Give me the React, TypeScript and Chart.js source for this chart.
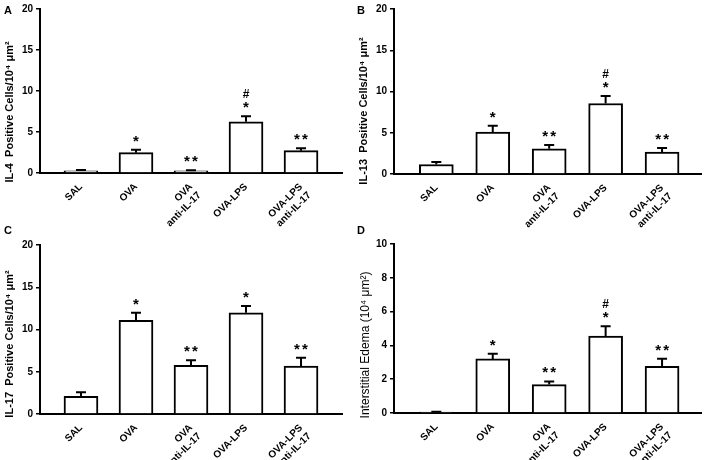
import React, { useEffect, useRef } from "react";
import { Chart, registerables } from "chart.js";

Chart.register(...registerables);

// ---------- data ----------
const categories: string[][] = [
  ["SAL"],
  ["OVA"],
  ["OVA", "anti-IL-17"],
  ["OVA-LPS"],
  ["OVA-LPS", "anti-IL-17"],
];

const il4Means = [0.25, 2.48, 0.25, 6.24, 2.72];
const il4Errors = [0.12, 0.36, 0.08, 0.68, 0.3];
const il4Stars = ["", "*", "**", "*", "**"];
const il4Hash = [false, false, false, true, false];

const il13Means = [1.15, 5.08, 3.05, 8.55, 2.65];
const il13Errors = [0.3, 0.76, 0.48, 0.9, 0.5];
const il13Stars = ["", "*", "**", "*", "**"];
const il13Hash = [false, false, false, true, false];

const il17Means = [2.1, 11.1, 5.75, 11.97, 5.67];
const il17Errors = [0.46, 0.87, 0.6, 0.8, 0.98];
const il17Stars = ["", "*", "**", "*", "**"];
const il17Hash = [false, false, false, false, false];

const edemaMeans = [0.05, 3.2, 1.68, 4.55, 2.76];
const edemaErrors = [0.03, 0.3, 0.19, 0.58, 0.45];
const edemaStars = ["", "*", "**", "*", "**"];
const edemaHash = [false, false, false, true, false];

const panelLetters = ["A", "B", "C", "D"];
const yTitles = [
  "IL-4  Positive Cells/10\u2074 \u03bcm\u00b2",
  "IL-13  Positive Cells/10\u2074 \u03bcm\u00b2",
  "IL-17  Positive Cells/10\u2074 \u03bcm\u00b2",
  "Interstitial Edema (10\u2074 \u03bcm\u00b2)",
];
const yMaxes = [20, 20, 20, 10];
const ySteps = [5, 5, 5, 2];

const FONT = "'Liberation Sans', Arial, Helvetica, sans-serif";

type PanelSpec = {
  means: number[];
  errors: number[];
  stars: string[];
  hash: boolean[];
  yMax: number;
  yStep: number;
  title: string;
  titleBold: boolean;
  padTop: number;
  padRight: number;
  xHeight: number;
  xMin: number;
  xMax: number;
  titleX: number;
  titleY: number;
};

const errorPlugin = {
  id: "errAndMarks",
  afterDatasetsDraw(chart: any, _args: any, opts: any) {
    const spec: PanelSpec = opts.spec;
    const ctx = chart.ctx;
    const xs = chart.scales.x;
    const ys = chart.scales.y;
    ctx.save();
    ctx.strokeStyle = "#000";
    ctx.fillStyle = "#000";
    ctx.lineWidth = 2;
    spec.means.forEach((m, i) => {
      const x = xs.getPixelForValue(i);
      const y0 = ys.getPixelForValue(m);
      const y1 = ys.getPixelForValue(m + spec.errors[i]);
      ctx.beginPath();
      ctx.moveTo(x, y0);
      ctx.lineTo(x, y1);
      ctx.moveTo(x - 5, y1);
      ctx.lineTo(x + 5, y1);
      ctx.stroke();
      ctx.font = `bold 15px ${FONT}`;
      ctx.textAlign = "center";
      ctx.textBaseline = "alphabetic";
      const s = spec.stars[i];
      const sy = y1 - 4;
      if (s === "*") {
        ctx.fillText("*", x, sy);
      } else if (s === "**") {
        ctx.fillText("*", x - 4, sy);
        ctx.fillText("*", x + 4, sy);
      }
      if (spec.hash[i]) {
        ctx.font = `bold 12px ${FONT}`;
        ctx.fillText("#", x, sy - 14);
      }
    });
    // y axis title
    ctx.translate(spec.titleX, spec.titleY);
    ctx.rotate(-Math.PI / 2);
    ctx.font = `${spec.titleBold ? "bold 11px" : "12px"} ${FONT}`;
    ctx.textAlign = "center";
    ctx.textBaseline = "middle";
    ctx.fillText(spec.title, 0, 0);
    ctx.restore();
  },
};

function Panel({ spec }: { spec: PanelSpec }) {
  const ref = useRef<HTMLCanvasElement | null>(null);
  useEffect(() => {
    if (!ref.current) return;
    const chart = new Chart(ref.current, {
      type: "bar",
      data: {
        datasets: [
          {
            data: spec.means.map((v, i) => ({ x: i, y: v })),
            backgroundColor: "#ffffff",
            borderColor: "#000000",
            borderWidth: 2,
            barThickness: 34,
          } as any,
        ],
      },
      plugins: [errorPlugin],
      options: {
        responsive: false,
        maintainAspectRatio: false,
        animation: false,
        devicePixelRatio: 1,
        layout: {
          padding: { top: spec.padTop, right: spec.padRight, left: 0, bottom: 0 },
        },
        plugins: {
          legend: { display: false },
          tooltip: { enabled: false },
          errAndMarks: { spec },
        } as any,
        scales: {
          x: {
            type: "linear",
            offset: false,
            min: spec.xMin,
            max: spec.xMax,
            grid: { display: false, drawTicks: false, offset: false },
            border: { display: true, color: "#000", width: 2 },
            afterBuildTicks: (s: any) => {
              s.ticks = categories.map((_, i) => ({ value: i }));
            },
            afterFit: (s: any) => {
              s.height = spec.xHeight;
            },
            ticks: {
              autoSkip: false,
              minRotation: 45,
              maxRotation: 45,
              padding: 8,
              color: "#000",
              font: { family: FONT, size: 10, weight: "bold" },
              callback: (v: any) => categories[v as number],
            },
          } as any,
          y: {
            type: "linear",
            min: 0,
            max: spec.yMax,
            afterFit: (s: any) => {
              s.width = 40;
            },
            ticks: {
              stepSize: spec.yStep,
              padding: 3,
              color: "#000",
              font: { family: FONT, size: 10, weight: "bold" },
            },
            grid: {
              drawOnChartArea: false,
              tickLength: 4,
              color: "#000",
              lineWidth: 1.5,
            },
            border: { color: "#000", width: 2 },
          } as any,
        },
      },
    });
    return () => chart.destroy();
  }, [spec]);
  return <canvas ref={ref} width={354} height={230} style={{ display: "block" }} />;
}

const specs: PanelSpec[] = [
  {
    means: il4Means, errors: il4Errors, stars: il4Stars, hash: il4Hash,
    yMax: yMaxes[0], yStep: ySteps[0], title: yTitles[0], titleBold: true,
    padTop: 6, padRight: 12, xHeight: 57, xMin: -0.745, xMax: 4.745,
    titleX: 10, titleY: 112,
  },
  {
    means: il13Means, errors: il13Errors, stars: il13Stars, hash: il13Hash,
    yMax: yMaxes[1], yStep: ySteps[1], title: yTitles[1], titleBold: true,
    padTop: 6, padRight: 7, xHeight: 56, xMin: -0.75, xMax: 4.69,
    titleX: 10, titleY: 111,
  },
  {
    means: il17Means, errors: il17Errors, stars: il17Stars, hash: il17Hash,
    yMax: yMaxes[2], yStep: ySteps[2], title: yTitles[2], titleBold: true,
    padTop: 15, padRight: 12, xHeight: 46, xMin: -0.745, xMax: 4.745,
    titleX: 10, titleY: 114,
  },
  {
    means: edemaMeans, errors: edemaErrors, stars: edemaStars, hash: edemaHash,
    yMax: yMaxes[3], yStep: ySteps[3], title: yTitles[3], titleBold: false,
    padTop: 14, padRight: 7, xHeight: 47, xMin: -0.75, xMax: 4.69,
    titleX: 12, titleY: 115,
  },
];

const positions = [
  { left: 0, top: 0 },
  { left: 354, top: 0 },
  { left: 0, top: 230 },
  { left: 354, top: 230 },
];
const letterPos = [
  { left: 4, top: 5 },
  { left: 357, top: 5 },
  { left: 4, top: 225 },
  { left: 357, top: 225 },
];

export default function App() {
  return (
    <div
      style={{
        position: "fixed",
        left: 0,
        top: 0,
        width: 708,
        height: 460,
        background: "#fff",
        overflow: "hidden",
      }}
    >
      {specs.map((s, i) => (
        <div key={i} style={{ position: "absolute", ...positions[i] }}>
          <Panel spec={s} />
        </div>
      ))}
      {panelLetters.map((l, i) => (
        <div
          key={l}
          style={{
            position: "absolute",
            ...letterPos[i],
            font: `bold 11px ${FONT}`,
            lineHeight: "11px",
            color: "#000",
          }}
        >
          {l}
        </div>
      ))}
    </div>
  );
}
